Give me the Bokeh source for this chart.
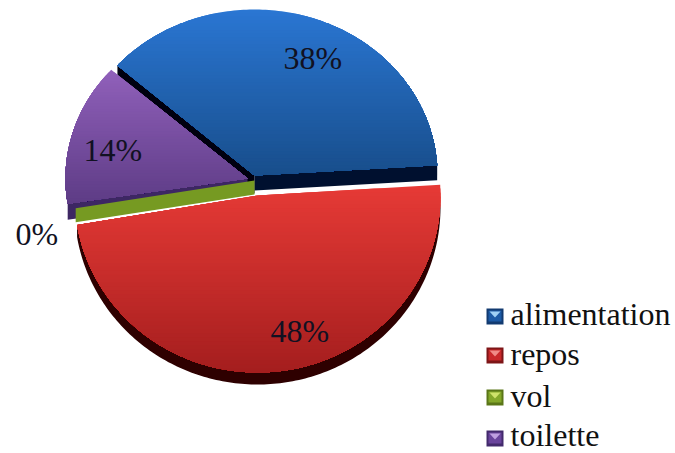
import math
from bokeh.plotting import figure
from bokeh.models import Range1d
from bokeh.core.properties import value
from bokeh.embed import file_html
from bokeh.resources import INLINE

categories = ["alimentation", "repos", "vol", "toilette"]
shares = [37.5, 48.3, 0.2, 14.0]
labels = ["38%", "48%", "0%", "14%"]

W, H = 675, 453
p = figure(width=W, height=H, output_backend="svg", toolbar_location=None,
           x_range=Range1d(0, W), y_range=Range1d(H, 0), min_border=0,
           outline_line_color=None, background_fill_color="white",
           border_fill_color="white")
p.axis.visible = False
p.grid.visible = False

START = -48.5
total = sum(shares)
angles = [START]
for s in shares:
    angles.append(angles[-1] + 360.0 * s / total)


def pt(g, a):
    r = math.radians(a)
    return g["cx"] + g["rx"] * math.sin(r), g["cy"] - g["ry"] * math.cos(r)


def wedge(g, a0, a1):
    n = max(2, int(abs(a1 - a0)))
    return [(g["cx"], g["cy"])] + [pt(g, a0 + (a1 - a0) * i / n) for i in range(n + 1)]


def clip_below(poly, y0):
    out = []
    for i, (x1, y1) in enumerate(poly):
        x2, y2 = poly[(i + 1) % len(poly)]
        if y1 >= y0:
            out.append((x1, y1))
        if (y1 >= y0) != (y2 >= y0):
            t = (y0 - y1) / (y2 - y1)
            out.append((x1 + t * (x2 - x1), y0))
    return out


def mix(c0, c1, t):
    return "#%02x%02x%02x" % tuple(round(a + (b - a) * t) for a, b in zip(c0, c1))


def gradient(poly, c0, c1, steps=48):
    ys = [q[1] for q in poly]
    top, bot = min(ys), max(ys)
    for k in range(steps):
        y0 = top + (bot - top) * k / steps
        part = clip_below(poly, y0)
        if len(part) >= 3:
            p.patch([q[0] for q in part], [q[1] for q in part],
                    fill_color=mix(c0, c1, k / (steps - 1)), line_color=None)


def fill(poly, color):
    p.patch([q[0] for q in poly], [q[1] for q in poly], fill_color=color, line_color=None)


def extrude_edge(g, a, depth, color):
    x, y = pt(g, a)
    fill([(g["cx"], g["cy"]), (x, y), (x, y + depth), (g["cx"], g["cy"] + depth)], color)


def extrude_arc(g, a0, a1, depth, color):
    n = max(2, int(abs(a1 - a0)))
    arc = [pt(g, a0 + (a1 - a0) * i / n) for i in range(n + 1)]
    fill(arc + [(x, y + depth) for x, y in reversed(arc)], color)


blue = dict(cx=254, cy=175, rx=183, ry=166)
red = dict(cx=257, cy=195, rx=183, ry=177)
green = dict(cx=254, cy=180, rx=181, ry=180)
purple = dict(cx=247, cy=178, rx=182, ry=164)

# blue slice and its walls
extrude_edge(blue, angles[0], 18, "#00000f")
extrude_edge(blue, angles[1], 15, "#00102f")
gradient(wedge(blue, angles[0], angles[1]), (42, 118, 210), (24, 78, 140))

# red slice with its rim
extrude_arc(red, angles[1] + 3, angles[2], 12, "#2e0000")
gradient(wedge(red, angles[1], angles[2]), (230, 58, 54), (165, 30, 30))

# toilette slice with its rim
extrude_edge(purple, angles[3], 16, "#3d2763")
gradient(wedge(purple, angles[3], angles[4]), (144, 96, 186), (94, 60, 134))

# vol slice: only its cut face shows
extrude_edge(green, angles[3], 14, "#769a22")

text_font = value("Liberation Serif")
TEXT_SHIFT = -12
label_x = [283, 270, 15, 83]
label_y = [69, 342, 245, 161]
p.text(label_x, [y + TEXT_SHIFT for y in label_y], text=labels, text_font=text_font,
       text_font_size="32px", text_color="#111122", text_baseline="alphabetic")

# legend
sw_fill = ["#1c5aa6", "#c8282a", "#84a82a", "#6a449c"]
sw_dark = ["#123a70", "#7d1517", "#5a7618", "#432a6c"]
sw_light = ["#9fd0f5", "#f08a86", "#cfe36a", "#bf9fe0"]
sw_top = [308, 347, 389, 430]
text_base = [325, 365, 407, 446]
for name, f, d, l, t, b in zip(categories, sw_fill, sw_dark, sw_light, sw_top, text_base):
    x0, x1, y0, y1 = 486, 503, t, t + 16
    fill([(x0, y0), (x1, y0), (x1, y1), (x0, y1)], d)
    fill([(x0 + 2, y0 + 2), (x1 - 2, y0 + 2), (x1 - 2, y1 - 3), (x0 + 2, y1 - 3)], f)
    fill([(x0 + 3, y0 + 3), (x1 - 3, y0 + 3), ((x0 + x1) / 2, y0 + 9)], l)
    p.text([510], [b + TEXT_SHIFT], text=[name], text_font=text_font, text_font_size="32px",
           text_color="#111111", text_baseline="alphabetic")

open("out.html", "w").write(file_html(p, INLINE))
